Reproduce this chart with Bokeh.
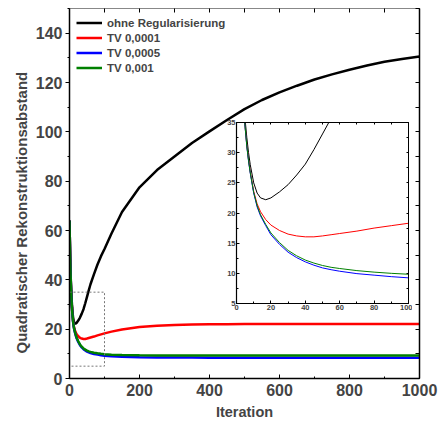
from bokeh.plotting import figure
from bokeh.models import Range1d, LinearAxis, Legend, LegendItem, Title, FixedTicker
from bokeh.layouts import column, row
from bokeh.embed import file_html
from bokeh.resources import INLINE

# ---- data ----
iterations = [0, 1, 2, 3, 4, 5, 6, 7, 8, 10, 12, 14, 17, 20, 25, 30, 35, 40, 45, 50, 55, 60,
              70, 80, 90, 100, 120, 150, 200, 250, 300, 350, 400, 450, 500, 550, 600, 650,
              700, 750, 800, 850, 900, 950, 1000]
ohne_reg = [64, 56, 49, 43.5, 39, 35.5, 32.5, 30, 28, 25, 23.3, 22.5, 22.2, 22.5, 23.5, 24.7,
            26.3, 28.1, 30.5, 33.1, 35.7, 38.2, 42.3, 46.2, 49.6, 52.5, 58.8, 67.5, 77.5, 84.5,
            90, 95.5, 100.2, 104.8, 109.2, 112.9, 116, 118.7, 121.2, 123.3, 125.2, 126.9,
            128.4, 129.5, 130.5]
tv_0001 = [64, 56, 48.5, 42.5, 38, 34.3, 31.2, 28.8, 26.8, 23.6, 21.5, 20.2, 18.9, 18.0, 17.1,
           16.5, 16.2, 16.05, 16.05, 16.2, 16.4, 16.6, 17.0, 17.5, 17.9, 18.3, 19.0, 19.9, 20.9,
           21.4, 21.7, 21.85, 21.95, 22.0, 22.05, 22.1, 22.1, 22.1, 22.1, 22.1, 22.1, 22.1,
           22.1, 22.1, 22.1]
tv_0005 = [64, 56, 48.5, 42.5, 38, 34.2, 31, 28.6, 26.6, 23.3, 21.0, 19.5, 17.9, 16.4, 14.8,
           13.5, 12.6, 11.9, 11.35, 10.9, 10.6, 10.35, 9.95, 9.7, 9.45, 9.25, 9.0, 8.8, 8.65,
           8.55, 8.5, 8.5, 8.45, 8.45, 8.45, 8.4, 8.4, 8.4, 8.4, 8.4, 8.4, 8.4, 8.4, 8.4, 8.4]
tv_001 = [64, 56, 48.5, 42.5, 38, 34.3, 31.1, 28.7, 26.7, 23.4, 21.2, 19.7, 18.1, 16.7, 15.1,
          13.8, 12.9, 12.2, 11.7, 11.3, 11.0, 10.8, 10.45, 10.2, 10.0, 9.85, 9.65, 9.5, 9.4,
          9.37, 9.35, 9.33, 9.32, 9.3, 9.3, 9.3, 9.3, 9.3, 9.3, 9.3, 9.3, 9.3, 9.3, 9.3, 9.3]
series_names = ["ohne Regularisierung", "TV 0,0001", "TV 0,0005", "TV 0,001"]
series_values = [ohne_reg, tv_0001, tv_0005, tv_001]
series_colors = ["#000000", "#ff0000", "#0000ff", "#008000"]

main_x_ticks = [0, 200, 400, 600, 800, 1000]
main_y_ticks = [0, 20, 40, 60, 80, 100, 120, 140]
main_x_minor = list(range(0, 1001, 100))
main_y_minor = list(range(0, 151, 10))
zoom_x = [0, 100]     # zoom window (iterations)
zoom_y = [5, 35]      # zoom window (distance)
inset_x_ticks = [0, 20, 40, 60, 80, 100]
inset_y_ticks = [5, 10, 15, 20, 25, 30, 35]
inset_x_minor = list(range(0, 101, 10))
inset_y_minor = [5 + 2.5 * i for i in range(13)]

FONT = "Liberation Sans"

# ---- main figure ----
p = figure(width=438, height=426, x_range=Range1d(0, 1000), y_range=Range1d(0, 150),
           output_backend="svg", toolbar_location=None,
           min_border_left=69, min_border_right=19, min_border_top=8, min_border_bottom=48)
p.grid.visible = False
p.outline_line_color = None

renderers = []
for vals, col in zip(series_values, series_colors):
    r = p.line(iterations, vals, line_color=col, line_width=2.5)
    renderers.append(r)

p.quad(left=[zoom_x[0]], right=[zoom_x[1]], bottom=[zoom_y[0]], top=[zoom_y[1]],
       fill_alpha=0, line_color="#777777", line_dash="2 2", line_width=1)

xa = p.xaxis[0]
xa.ticker = FixedTicker(ticks=main_x_ticks, minor_ticks=main_x_minor)
xa.axis_label = "Iteration"
xa.axis_label_text_font = FONT
xa.axis_label_text_font_style = "bold"
xa.axis_label_text_font_size = "14.5px"
xa.axis_label_standoff = 5
xa.major_label_text_font = FONT
xa.major_label_text_font_style = "bold"
xa.major_label_text_font_size = "16px"
xa.major_label_standoff = 5
xa.major_tick_in = 4
xa.major_tick_out = 0
xa.minor_tick_in = 2
xa.minor_tick_out = 0
xa.axis_line_width = 1.5

ya = p.yaxis[0]
ya.ticker = FixedTicker(ticks=main_y_ticks, minor_ticks=main_y_minor)
ya.major_label_text_font = FONT
ya.major_label_text_font_style = "bold"
ya.major_label_text_font_size = "16px"
ya.major_label_standoff = 3
ya.major_tick_out = 4
ya.major_tick_in = 0
ya.minor_tick_out = 2
ya.minor_tick_in = 0
ya.axis_line_width = 1.5

# top / right frame axes: ticks only (no labels)
top_ax = LinearAxis(ticker=FixedTicker(ticks=[], minor_ticks=main_x_minor),
                    major_label_standoff=0, major_tick_in=0, major_tick_out=0,
                    minor_tick_in=4, minor_tick_out=0, axis_line_color="#888888")
p.add_layout(top_ax, "above")
right_ax = LinearAxis(ticker=FixedTicker(ticks=[], minor_ticks=main_y_minor),
                      major_label_standoff=0, major_tick_in=0, major_tick_out=0,
                      minor_tick_in=4, minor_tick_out=0, axis_line_width=1.5)
p.add_layout(right_ax, "right")

# y-axis title (anchored at the frame bottom, shifted up by `offset`)
ytitle = Title(text="Quadratischer Rekonstruktionsabstand", align="left",
               text_font=FONT, text_font_style="bold", text_font_size="15px",
               offset=25, standoff=5)
p.add_layout(ytitle, "left")

legend = Legend(items=[LegendItem(label=n, renderers=[r]) for n, r in zip(series_names, renderers)],
                location="top_left", border_line_alpha=0, background_fill_alpha=0,
                label_text_font=FONT, label_text_font_style="bold", label_text_font_size="11.5px",
                glyph_width=26, glyph_height=15, label_height=15, spacing=0, padding=7,
                margin=0, label_standoff=5)
p.add_layout(legend)

# ---- inset figure ----
L, T, R, B = 20, 4, 4, 14
fw, fh = 172, 181
W, H = L + fw + R, T + fh + B
inset = figure(width=W, height=H, x_range=Range1d(*zoom_x), y_range=Range1d(*zoom_y),
               output_backend="svg", toolbar_location=None,
               min_border_left=L, min_border_right=R, min_border_top=T, min_border_bottom=B,
               border_fill_alpha=0, outline_line_color="#000000")
inset.grid.visible = False
for vals, col in zip(series_values, series_colors):
    inset.line(iterations, vals, line_color=col, line_width=1)

for ax, ticks, minor in [(inset.xaxis[0], inset_x_ticks, inset_x_minor),
                         (inset.yaxis[0], inset_y_ticks, inset_y_minor)]:
    ax.ticker = FixedTicker(ticks=ticks, minor_ticks=minor)
    ax.major_label_text_font = FONT
    ax.major_label_text_font_style = "bold"
    ax.major_label_text_font_size = "7.5px"
    ax.major_label_standoff = 1
    ax.major_tick_in = 3
    ax.major_tick_out = 0
    ax.minor_tick_in = 2
    ax.minor_tick_out = 0
    ax.axis_line_width = 1.2
for place, minor in [("above", inset_x_minor), ("right", inset_y_minor)]:
    a = LinearAxis(ticker=FixedTicker(ticks=[], minor_ticks=minor),
                   major_label_standoff=0, major_tick_in=0, major_tick_out=0,
                   minor_tick_in=2, minor_tick_out=0)
    inset.add_layout(a, place)

# overlay the inset onto the main figure (negative top margin pulls it up);
# wrapped in its own row so its frame is not aligned with the main frame
inset_left, inset_top = 236 - L, 122 - T
wrapper = row(inset)
wrapper.margin = (inset_top - 426, 0, 0, inset_left)

layout = column(p, wrapper)
open("out.html", "w").write(file_html(layout, INLINE))
